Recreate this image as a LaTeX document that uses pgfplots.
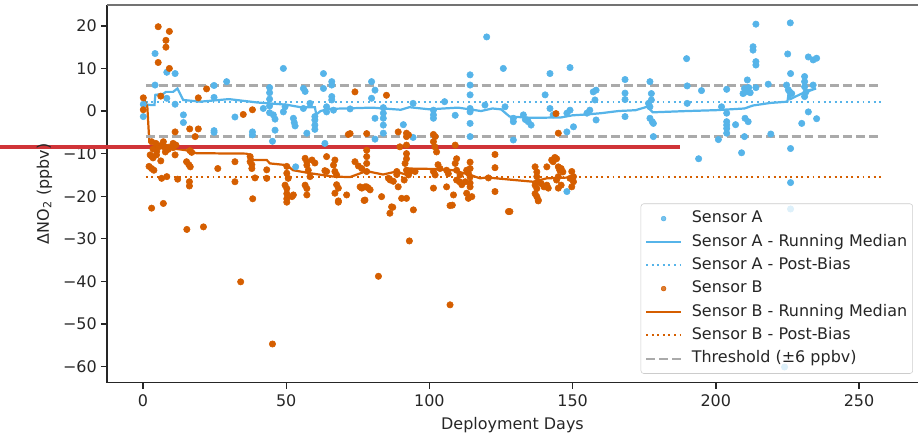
\documentclass[border=0pt]{standalone}
\usepackage{fontspec}
\setmainfont{DejaVu Sans}
\usepackage{pgfplots}
\usepackage{pgfplotstable}
\pgfplotsset{compat=1.18}

\definecolor{sensA}{HTML}{56B4E9}
\definecolor{sensB}{HTML}{D55E00}
\definecolor{thr}{HTML}{AAAAAA}
\definecolor{redbar}{RGB}{208,52,56}

% Sensor A raw differences (day, ppbv)
\pgfplotstableread{
x y
0.1 1.6
0.1 -1.3
4.2 13.5
4.2 6.1
8.3 9.1
8.3 3.0
11.2 8.8
11.2 1.6
14.1 -0.9
14.1 -2.7
24.8 6.0
24.8 3.2
24.8 -4.6
24.8 -5.0
29.2 6.9
32.1 -1.4
38.2 -4.9
38.2 -5.6
44.2 5.5
44.2 4.3
44.2 2.8
44.2 1.2
44.2 -0.4
42.0 0.6
45.5 -0.9
46.1 -1.9
46.1 -4.5
45.2 -7.1
49.0 10.0
49.0 -0.2
49.6 1.0
52.5 -1.7
52.8 -2.7
53.1 -3.5
53.3 -13.1
56.0 5.3
56.6 4.6
56.0 0.6
57.2 -5.2
58.3 1.8
60.0 -1.3
60.0 -2.1
60.0 -3.3
60.0 -4.3
63.0 8.8
63.0 5.3
63.5 -7.6
64.1 1.0
64.1 -0.2
65.9 6.9
65.9 6.1
65.9 3.4
65.9 2.6
66.5 0.2
72.3 0.5
79.8 6.9
81.0 4.9
79.8 3.0
81.0 -1.7
81.0 -6.6
83.9 0.8
83.9 -0.5
83.9 -1.7
83.9 -3.3
83.9 -5.2
90.9 -3.2
94.3 1.8
94.3 -6.2
101.4 0.2
101.4 -0.9
101.4 -1.7
105.3 2.2
109.0 -1.0
114.2 8.5
114.2 6.1
114.2 3.8
114.2 0.6
114.2 -0.2
114.2 -2.9
114.2 -6.0
120.0 17.4
119.4 1.4
125.8 10.0
126.4 1.0
129.3 -1.7
129.3 -2.5
129.3 -6.8
132.8 -0.9
133.5 -2.0
134.5 -2.5
135.5 -3.3
142.1 8.8
140.4 3.8
142.1 0.6
143.2 -0.9
149.1 10.2
148.0 -0.5
149.1 0.2
148.0 -4.9
150.3 -3.7
148.0 -18.9
155.0 -0.5
156.0 0.2
157.2 4.5
158.2 4.9
157.8 2.6
158.2 -2.1
168.3 7.4
168.3 4.2
168.3 2.7
168.3 -1.3
177.0 6.9
177.5 4.1
177.5 2.6
176.5 1.8
177.0 1.0
177.0 -1.7
177.8 -2.5
178.2 -2.9
178.2 -6.0
189.8 12.3
190.0 5.9
190.0 1.8
195.0 4.8
194.0 -11.2
202.0 1.0
203.8 5.1
203.8 -0.5
203.8 -2.5
203.8 -3.3
203.8 -4.1
203.8 -5.2
206.9 -3.2
200.9 -6.7
209.0 -9.8
210.0 -6.0
211.0 7.3
210.0 5.3
209.5 4.1
210.5 4.5
212.0 4.3
211.5 5.5
214.0 5.5
210.2 -1.7
211.3 -2.5
213.0 15.1
213.0 14.3
214.0 11.6
214.0 10.8
214.0 20.4
218.3 6.3
219.2 -5.4
226.0 20.7
225.1 13.4
226.1 8.8
224.7 6.1
225.3 5.0
225.8 4.5
226.5 4.1
226.1 -8.8
226.1 -16.8
226.1 -23.0
224.0 -60.1
231.0 8.1
231.0 6.9
231.0 5.7
231.5 4.5
231.0 3.4
232.3 12.7
234.0 12.0
235.2 12.4
232.3 -0.2
230.0 -2.9
235.2 -1.8
234.0 6.1
}\sensorA

% Sensor A running median
\pgfplotstableread{
x y
0.5 1.5
4.0 1.4
4.3 3.8
7.0 4.0
8.0 4.5
10.5 4.5
12.0 5.3
14.0 2.6
20.0 2.2
30.0 2.8
40.0 2.0
50.0 1.5
55.0 0.9
60.0 0.9
60.5 -0.8
62.0 0.0
65.0 0.5
80.0 0.8
90.0 0.3
93.0 0.9
100.0 0.4
110.0 0.8
118.0 0.0
122.0 0.6
125.0 0.4
128.0 -1.3
136.0 -1.6
146.0 -1.5
150.0 -1.0
155.0 -0.8
160.0 -0.5
166.0 0.0
172.0 0.2
176.0 1.0
178.0 -0.3
190.0 0.0
200.0 0.2
210.0 0.6
213.0 1.3
219.0 1.9
225.0 2.2
225.5 4.5
226.0 2.8
230.0 4.1
235.0 5.3
232.0 4.8
}\medA

% Sensor B raw differences (day, ppbv)
\pgfplotstableread{
x y
0.1 3.1
0.1 0.3
5.3 19.8
9.2 18.7
8.0 16.6
8.0 15.0
5.3 11.4
9.2 10.0
6.2 3.5
19.3 3.1
22.2 5.2
35.0 -0.8
38.2 0.3
11.2 -4.9
16.3 -4.2
19.3 -4.2
18.2 -6.0
3.0 -7.2
4.5 -7.6
5.5 -8.4
3.5 -8.9
4.8 -9.4
6.5 -8.0
7.1 -7.2
7.3 -8.4
8.8 -9.0
7.8 -9.6
9.0 -8.5
10.5 -7.6
11.5 -8.0
10.5 -8.6
2.5 -10.3
3.5 -11.0
3.0 -10.6
4.7 -10.3
2.1 -13.0
3.0 -13.5
3.8 -13.9
6.2 -11.7
11.2 -10.3
15.2 -11.9
16.0 -12.6
16.5 -13.1
16.4 -9.3
17.0 -9.7
6.5 -15.8
8.3 -15.4
12.1 -16.0
16.2 -16.6
16.2 -17.6
26.1 -13.5
32.1 -11.9
32.1 -16.6
37.4 -10.7
37.4 -11.9
38.0 -12.6
38.0 -13.5
39.1 -15.7
38.3 -20.6
43.2 -13.8
43.2 -15.8
49.6 -17.4
50.2 -18.2
50.2 -19.4
50.2 -20.6
50.2 -21.4
50.2 -13.0
50.2 -14.6
50.7 -15.8
52.5 -19.7
52.0 -20.1
56.6 -11.1
57.2 -11.9
57.2 -12.7
57.7 -13.9
59.0 -11.5
60.0 -12.2
56.6 -17.4
57.2 -18.2
57.2 -19.7
58.3 -15.4
3.0 -22.8
7.1 -21.7
15.3 -27.8
21.1 -27.2
34.1 -40.1
45.2 -54.7
64.1 -10.7
64.1 -14.2
63.5 -14.0
67.0 -11.5
66.5 -12.7
67.0 -14.2
67.6 -15.0
67.6 -17.3
68.2 -18.1
67.0 -19.3
68.2 -21.1
71.1 -19.7
74.0 4.5
85.0 3.7
71.7 -5.5
72.3 -5.3
78.1 -5.3
78.1 -9.2
78.1 -10.7
78.1 -12.3
78.1 -14.2
74.0 -11.9
75.2 -12.9
76.4 -13.5
75.8 -17.8
76.4 -18.1
77.5 -17.8
78.1 -17.8
78.7 -18.1
77.5 -20.9
79.3 -18.5
83.3 -20.1
85.7 -15.8
86.3 -16.2
87.4 -16.5
88.6 -14.9
88.6 -14.2
89.1 -17.8
86.8 -22.5
86.2 -24.0
89.1 -4.9
92.0 -5.2
92.7 -5.6
92.0 -6.0
89.7 -8.4
92.0 -8.0
92.0 -10.0
92.0 -11.2
91.5 -12.3
92.0 -13.9
92.7 -15.0
91.2 -16.2
90.3 -20.5
92.0 -20.5
94.4 -23.2
93.2 -14.2
95.0 -14.2
93.0 -30.5
82.2 -38.8
101.4 -5.5
102.0 -6.0
101.4 -7.2
101.9 -8.4
101.4 -14.2
102.0 -15.0
101.4 -18.1
102.5 -9.6
103.0 -12.6
103.7 -13.5
106.0 -13.9
106.6 -14.7
106.0 -17.8
108.4 -19.7
108.0 -22.1
109.5 -16.2
110.5 -16.6
111.3 -17.3
113.0 -13.9
113.6 -14.6
112.5 -16.6
113.0 -19.3
113.6 -20.5
114.8 -20.1
109.0 -8.0
109.5 -11.2
109.0 -12.3
109.5 -13.9
110.7 -15.0
114.2 -12.0
114.2 -13.5
114.2 -15.5
114.2 -17.8
114.2 -16.9
107.2 -22.2
107.2 -45.5
122.9 -10.2
122.9 -13.3
120.6 -15.7
122.9 -18.9
127.6 -23.6
128.1 -23.6
144.2 -0.6
145.0 -5.2
136.9 -13.1
137.5 -14.3
137.5 -15.4
138.0 -16.6
136.9 -17.4
137.5 -18.2
136.9 -19.4
137.5 -20.1
138.0 -20.9
139.0 -17.0
140.0 -17.8
141.0 -17.4
141.5 -18.1
141.0 -13.1
142.7 -11.5
143.8 -10.9
144.4 -11.2
143.2 -11.9
145.0 -13.1
145.5 -13.9
146.0 -13.5
146.6 -14.3
145.0 -15.4
144.4 -16.2
146.0 -17.4
145.0 -18.1
149.7 -14.2
150.3 -15.4
149.1 -15.8
150.3 -16.6
149.7 -17.8
68.2 -21.4
77.2 -21.0
87.2 -22.6
138.0 -21.1
}\sensorB

% Sensor B running median
\pgfplotstableread{
x y
0.0 3.4
1.5 1.0
2.2 -7.2
5.0 -7.8
7.0 -7.6
10.5 -8.8
15.0 -9.2
18.7 -9.9
36.0 -10.0
37.4 -10.3
38.5 -11.5
43.2 -11.5
44.3 -12.3
50.2 -12.7
52.4 -13.9
58.3 -14.6
66.5 -15.4
72.3 -15.5
78.0 -14.1
83.8 -14.9
88.5 -14.2
92.0 -15.0
92.5 -13.5
101.3 -13.6
108.3 -13.9
114.2 -15.0
117.7 -15.8
120.0 -15.6
136.2 -16.6
141.0 -15.8
149.0 -15.6
150.0 -15.6
}\medB

\begin{document}
\fontsize{11.5}{13.8}\selectfont
\begin{tikzpicture}
\begin{axis}[
  name=ax,
  scale only axis, width=584pt, height=272pt,
  xmin=-12.6, xmax=270.6, ymin=-63.8, ymax=24.9,
  axis x line*=bottom, axis y line*=left,
  axis line style={line width=1pt, black!85},
  tick align=outside, major tick length=4.3pt,
  tick style={line width=1pt, black!85},
  xtick={0,50,...,250}, ytick={-60,-50,...,20},
  yticklabels={−60,−50,−40,−30,−20,−10,0,10,20},
  /pgf/number format/assume math mode=true,
  ticklabel style={text=black!85, font=\fontsize{11.5}{13.8}\selectfont},
  yticklabel style={xshift=1pt},
  xlabel={Deployment Days}, ylabel={ΔNO\textsubscript{2} (ppbv)},
  label style={text=black!85, font=\fontsize{11.5}{13.8}\selectfont},
  clip=false,
  mylegend/.style={legend image code/.code={\draw[mark repeat=2,mark phase=2,##1] plot coordinates {(0cm,0cm) (0.44cm,0cm) (0.88cm,0cm)};}},
  dotlegend/.style={legend image code/.code={\draw[##1, mark size=1.7pt] plot coordinates {(0.44cm,0cm)};}},
  legend cell align=left,
  legend style={at={(0.9938,0.0238)}, anchor=south east,
    draw=black!20, rounded corners=2pt, fill=white, fill opacity=0.8,
    draw opacity=1, text opacity=1, text=black!85,
    font=\fontsize{11.5}{13.8}\selectfont,
    row sep=3.4pt, column sep=6pt, inner xsep=3pt, inner ysep=4pt,
    nodes={inner sep=1pt, text height=8.8pt, text depth=2.6pt}},
]
\addplot[only marks, mark=*, mark size=2.3pt, color=sensA, dotlegend] table {\sensorA};
\addlegendentry{Sensor A}
\addplot[sensA, line width=1.6pt, mylegend] table {\medA};
\addlegendentry{Sensor A - Running Median}
\addplot[sensA, line width=1.4pt, dash pattern=on 1.4pt off 2.6pt, mylegend] coordinates {(1,2.2) (258,2.2)};
\addlegendentry{Sensor A - Post-Bias}
\addplot[only marks, mark=*, mark size=2.3pt, color=sensB, dotlegend] table {\sensorB};
\addlegendentry{Sensor B}
\addplot[sensB, line width=1.6pt, mylegend] table {\medB};
\addlegendentry{Sensor B - Running Median}
\addplot[sensB, line width=1.4pt, dash pattern=on 1.4pt off 2.6pt, mylegend] coordinates {(1,-15.5) (258,-15.5)};
\addlegendentry{Sensor B - Post-Bias}
\addplot[thr, line width=1.6pt, dash pattern=on 6.4pt off 2.9pt, mylegend] coordinates {(1,6) (258,6)};
\addlegendentry{Threshold (±6 ppbv)}
\addplot[thr, line width=1.6pt, dash pattern=on 6.4pt off 2.9pt, forget plot] coordinates {(1,-6) (258,-6)};
\draw[redbar, line width=2.4pt] (axis cs:-49.9,-8.45) -- (axis cs:187.5,-8.45);
\end{axis}
\draw[black!55, line width=1pt] (ax.north west) -- (ax.north east);
\pgfresetboundingbox
\path ([xshift=-77pt,yshift=-40.3pt]ax.south west) rectangle ([yshift=3.6pt]ax.north east);
\end{tikzpicture}
\end{document}
